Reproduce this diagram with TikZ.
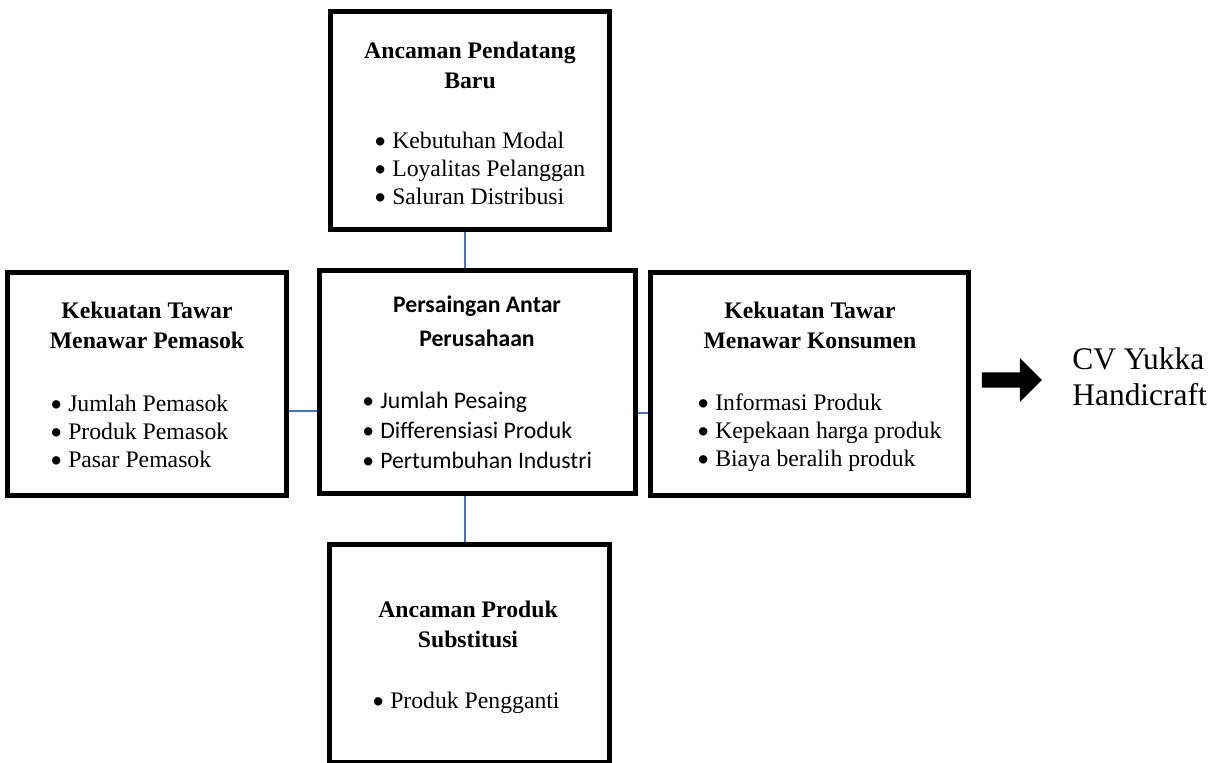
\documentclass[tikz,border=0pt]{standalone}
\usepackage{fontspec}
\setmainfont{Liberation Serif}
\newfontfamily\calibri{Carlito}
\usetikzlibrary{shapes.arrows}
\definecolor{linkblue}{RGB}{68,114,196}
\newcommand{\bulletitem}[1]{\makebox[10.2pt][l]{\calibri\textbullet}#1}

\tikzset{
	force/.style={draw, line width=2.8pt, minimum width=5.58cm, minimum height=4.36cm},
	heading/.style={font=\fontsize{13.5}{16.6}\selectfont\bfseries, align=center, anchor=base, inner sep=0pt},
	factors/.style={font=\fontsize{13.5}{15.9}\selectfont, align=left, anchor=base west, inner sep=0pt},
	link/.style={draw=linkblue, line width=1.1pt}
}

\begin{document}
\begin{tikzpicture}[x=0.02cm, y=-0.02cm]
			\useasboundingbox (0,0) rectangle (1215,762);
			% the five forces (text nodes sit on the baseline of their last line)
			\node[force] (entrants) at (470,120.5) {};
			\node[force, minimum height=4.46cm] (suppliers) at (147,384) {};
			\node[force, minimum width=6.32cm, minimum height=4.46cm] (rivalry) at (477.5,382) {};
			\node[force, minimum width=6.36cm, minimum height=4.46cm] (buyers) at (809.5,384) {};
			\node[force, minimum width=5.6cm] (substitutes) at (469.5,653.5) {};

			\node[heading] (entrantsTitle) at (470,88) {Ancaman Pendatang\\Baru};
			\node[factors] (entrantsList) at (374,204) {\bulletitem{Kebutuhan Modal}\\\bulletitem{Loyalitas Pelanggan}\\\bulletitem{Saluran Distribusi}};

			\node[heading] (suppliersTitle) at (147,348) {Kekuatan Tawar\\Menawar Pemasok};
			\node[factors] (suppliersList) at (50,467) {\bulletitem{Jumlah Pemasok}\\\bulletitem{Produk Pemasok}\\\bulletitem{Pasar Pemasok}};

			\node[heading, font=\fontsize{13.5}{18.8}\selectfont\calibri\bfseries] (rivalryTitle) at (477,346) {Persaingan Antar\\Perusahaan};
			\node[factors, font=\fontsize{13.5}{16.8}\selectfont\calibri] (rivalryList) at (362,468) {\bulletitem{Jumlah Pesaing}\\\bulletitem{Differensiasi Produk}\\\bulletitem{Pertumbuhan Industri}};

			\node[heading] (buyersTitle) at (810,348) {Kekuatan Tawar\\Menawar Konsumen};
			\node[factors] (buyersList) at (697,466) {\bulletitem{Informasi Produk}\\\bulletitem{Kepekaan harga produk}\\\bulletitem{Biaya beralih produk}};

			\node[heading] (substitutesTitle) at (468,647) {Ancaman Produk\\Substitusi};
			\node[factors] (substitutesList) at (372,708) {\bulletitem{Produk Pengganti}};

			% links to the middle box
			\coordinate (topLink) at ([xshift=-0.1cm]entrants.south);
			\coordinate (bottomLink) at ([xshift=-0.09cm]substitutes.north);
			\coordinate (leftLink) at ([yshift=-0.54cm]suppliers.east);
			\coordinate (rightLink) at ([yshift=-0.62cm]rivalry.east);
			\draw[link] (topLink) -- (topLink |- rivalry.north);
			\draw[link] (bottomLink) -- (bottomLink |- rivalry.south);
			\draw[link] (leftLink) -- (leftLink -| rivalry.west);
			\draw[link] (rightLink) -- (rightLink -| buyers.west);

			\node[single arrow, fill=black, minimum height=1.2cm, minimum width=0.88cm, single arrow head extend=0.22cm, inner xsep=0pt, inner ysep=0.11cm] (toCompany) at (1008,380) {};
			\node[font=\fontsize{17.9}{20}\selectfont, align=left, anchor=base west, inner sep=0pt] (company) at (1072,405) {CV Yukka\\Handicraft};
\end{tikzpicture}
\end{document}
